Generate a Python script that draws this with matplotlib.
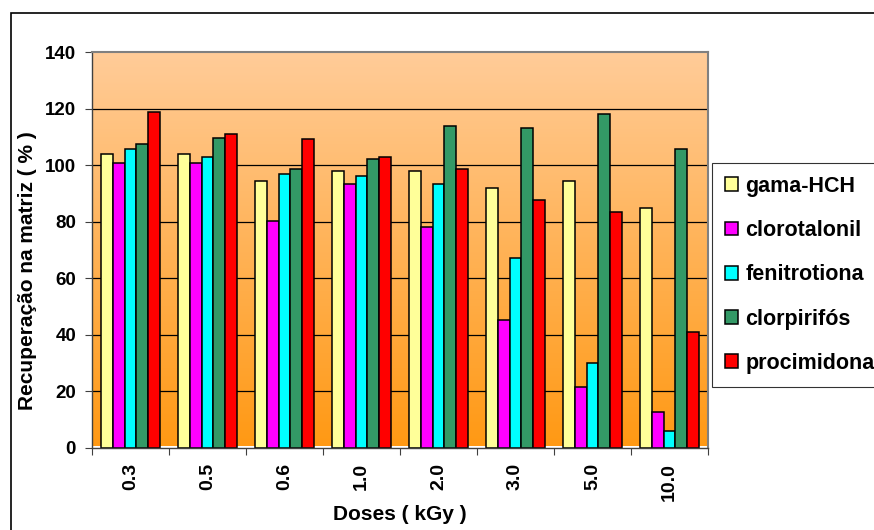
import numpy as np
import matplotlib
matplotlib.use('Agg')
import matplotlib.pyplot as plt
from matplotlib.patches import Patch, Rectangle

plt.rcParams['font.family'] = ['Liberation Sans', 'DejaVu Sans']
plt.rcParams['font.weight'] = 'bold'

# data
doses = ['0.3', '0.5', '0.6', '1.0', '2.0', '3.0', '5.0', '10.0']
series = ['gama-HCH', 'clorotalonil', 'fenitrotiona', 'clorpirifós', 'procimidona']
gama_hch = [104.1, 104.1, 94.5, 98.0, 98.0, 91.9, 94.5, 84.8]
clorotalonil = [100.7, 100.7, 80.1, 93.2, 78.0, 45.1, 21.6, 12.7]
fenitrotiona = [105.6, 102.8, 96.7, 96.0, 93.2, 67.1, 30.0, 5.9]
clorpirifos = [107.6, 109.6, 98.7, 102.1, 113.8, 113.2, 118.0, 105.8]
procimidona = [118.7, 110.9, 109.1, 102.8, 98.7, 87.8, 83.5, 40.9]
colors = ['#FFFF99', '#FF00FF', '#00FFFF', '#339966', '#FF0000']

values = [gama_hch, clorotalonil, fenitrotiona, clorpirifos, procimidona]

fig = plt.figure(figsize=(8.74, 5.30), dpi=100)
ax = fig.add_axes([92/874, 1-448/530, 616/874, 396/530])

# orange gradient background
grad = np.linspace(0, 1, 256).reshape(-1, 1)
top = np.array([255, 204, 153]) / 255
bot = np.array([255, 153, 20]) / 255
img = top + (bot - top) * grad[:, :, None] * np.ones((1, 1, 3))
ax.imshow(img, extent=[0, 8, 0.6, 140], aspect='auto', zorder=0, origin='upper')

# grid lines
for yv in range(20, 140, 20):
    ax.axhline(yv, color='black', lw=0.9, zorder=1)

w = 0.155
x = np.arange(len(doses)) + 0.5
for j, (vals, c, name) in enumerate(zip(values, colors, series)):
    ax.bar(x + (j - 2) * w, vals, width=w, color=c, edgecolor='black', lw=1.1, zorder=2, label=name)

ax.set_xlim(0, 8)
ax.set_ylim(0, 140)
ax.set_yticks(range(0, 141, 20))
ax.set_xticks(range(0, 9))
ax.set_xticklabels([])
ax.set_xticks(x, minor=True)
ax.set_xticklabels(doses, minor=True, rotation=90, fontsize=14, fontweight='bold')
ax.tick_params(axis='x', which='minor', length=0, pad=11)
ax.tick_params(axis='x', which='major', length=5, direction='out', color='#404040')
ax.tick_params(axis='y', length=5, direction='out', pad=6.5, labelsize=13.5, color='#404040')
for lab in ax.get_yticklabels():
    lab.set_fontweight('bold')

for s in ['top', 'right']:
    ax.spines[s].set_color('#808080')
    ax.spines[s].set_linewidth(1.5)
for s in ['left', 'bottom']:
    ax.spines[s].set_color('#404040')
    ax.spines[s].set_linewidth(1.0)

ax.set_xlabel('Doses ( kGy )', fontsize=15, fontweight='bold')
ax.xaxis.set_label_coords(0.5, -0.144)
ax.set_ylabel('Recuperação na matriz ( % )', fontsize=15, fontweight='bold')
ax.yaxis.set_label_coords(-0.09, 0.449)

handles = [Patch(facecolor=c, edgecolor='black', lw=1.1) for c in colors]
leg = fig.legend(handles, series, loc='upper left', bbox_to_anchor=(712/874, 1-163/530),
                 borderaxespad=0, prop={'size': 15.5, 'weight': 'bold'}, frameon=True,
                 fancybox=False, handlelength=0.6, handleheight=0.6, handletextpad=0.35,
                 labelspacing=1.08, borderpad=0.6)
leg.get_frame().set_edgecolor('black')
leg.get_frame().set_linewidth(0.8)

# outer chart border
fig.patches.append(Rectangle((11/874, -0.1), 1.2, 1-13/530+0.1, transform=fig.transFigure,
                             fill=False, edgecolor='black', lw=1.2))

fig.savefig('out.png', dpi=100)
